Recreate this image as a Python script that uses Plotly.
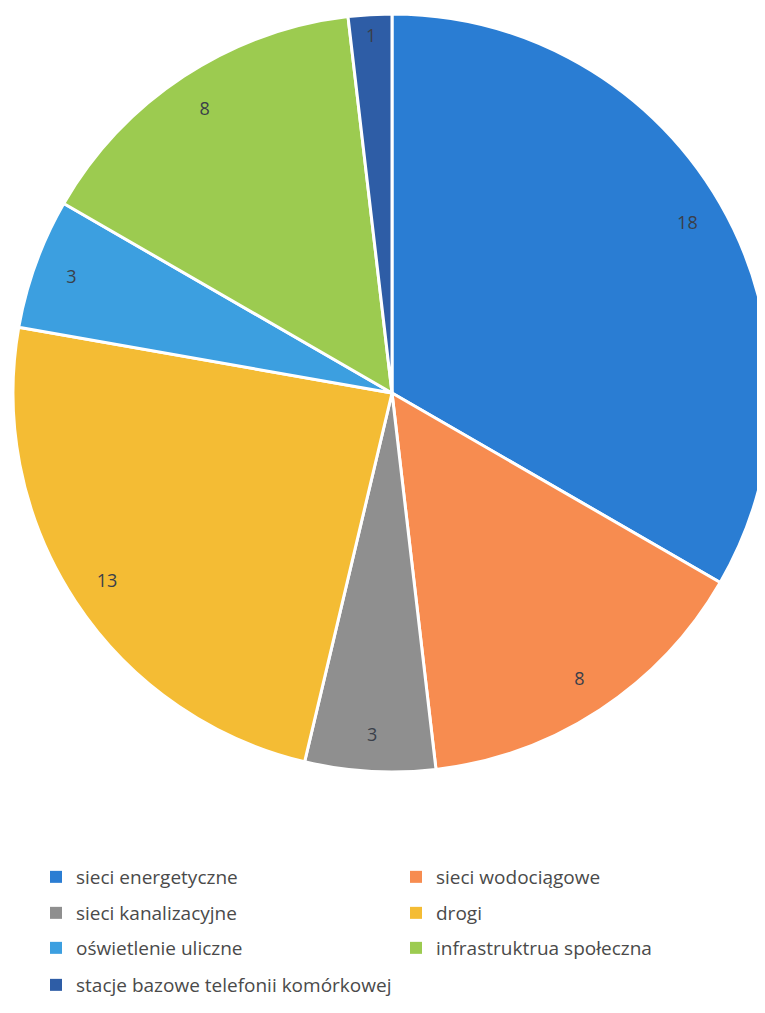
import plotly.graph_objects as go

labels = ["sieci energetyczne", "sieci wodociągowe", "sieci kanalizacyjne", "drogi",
          "oświetlenie uliczne", "infrastruktrua społeczna", "stacje bazowe telefonii komórkowej"]
values = [18, 8, 3, 13, 3, 8, 1]
colors = ["#2A7DD3", "#F78C50", "#8F8F8F", "#F4BC34", "#3C9FE0", "#9CCB50", "#2E5DA6"]

W, H = 765, 1013
OFF = 8  # page body margin
cx, cy, r = 392 - OFF, 393 - OFF, 379
dom = dict(x=[(cx - r) / W, (cx + r) / W], y=[1 - (cy + r) / H, 1 - (cy - r) / H])

fig = go.Figure()

# legend carriers: one legend per row (two entries each), so rows can be spaced like the reference
row_y = [877, 913, 948, 985]
legend_names = ["legend", "legend2", "legend3", "legend4"]
for k, name in enumerate(legend_names):
    sl = slice(2 * k, 2 * k + 2)
    fig.add_trace(go.Pie(
        labels=labels[sl], values=values[sl], sort=False,
        marker=dict(colors=colors[sl], line=dict(width=0)),
        textinfo="none", hoverinfo="skip", showlegend=True, legend=name,
        domain=dict(x=[0.5, 0.5005], y=[0.7, 0.7005]),
    ))

fig.add_trace(go.Pie(
    labels=labels, values=values, sort=False, direction="clockwise", rotation=0,
    marker=dict(colors=colors, line=dict(color="white", width=3)),
    textinfo="none", domain=dom, hoverinfo="label+value", showlegend=False,
))
# transparent ring to place value labels near the outer edge
fig.add_trace(go.Pie(
    labels=labels, values=values, sort=False, direction="clockwise", rotation=0,
    hole=0.8, showlegend=False,
    marker=dict(colors=["rgba(0,0,0,0)"] * len(values), line=dict(width=0)),
    textinfo="value", textposition="inside", insidetextorientation="horizontal",
    textfont=dict(family="Open Sans", size=18, color="#3A3F4A"),
    domain=dom, hoverinfo="skip",
))

legend_common = dict(orientation="h", xanchor="left", yanchor="middle",
                     entrywidth=315, entrywidthmode="pixels",
                     font=dict(family="Open Sans", size=19, color="#4A4A4A"),
                     bgcolor="rgba(0,0,0,0)", itemclick=False, itemdoubleclick=False)
legends = {}
for name, yy in zip(legend_names, row_y):
    legends[name] = dict(legend_common, x=28 / W, y=1 - (yy - OFF) / H)

fig.update_layout(
    width=W, height=H, margin=dict(l=0, r=0, t=0, b=0, autoexpand=False),
    paper_bgcolor="white", plot_bgcolor="white",
    showlegend=True,
    **legends,
)

fig.write_html("out.html")
